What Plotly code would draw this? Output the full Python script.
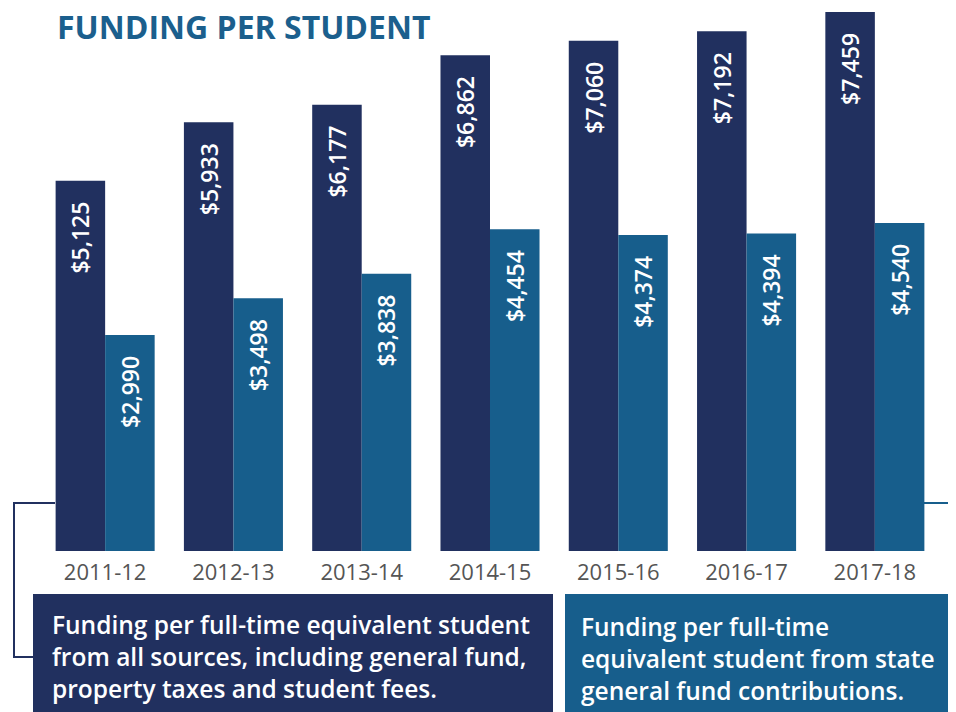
import plotly.graph_objects as go

years = ["2011-12", "2012-13", "2013-14", "2014-15", "2015-16", "2016-17", "2017-18"]
all_sources = [5125, 5933, 6177, 6862, 7060, 7192, 7459]
state_general_fund = [2990, 3498, 3838, 4454, 4374, 4394, 4540]

title_text = "FUNDING PER STUDENT"
legend_all_lines = ["Funding per full-time equivalent student",
                    "from all sources, including general fund,",
                    "property taxes and student fees."]
legend_state_lines = ["Funding per full-time",
                      "equivalent student from state",
                      "general fund contributions."]

FONT = "Open Sans"
DARK = "#21305f"
BLUE = "#175e8c"
W, H = 956, 712
OFF = 8  # page offset of the figure
PL, PR, PT, PB = 41, 939, 12, 551
L, T = PL - OFF, PT - OFF
R, B = W - (PR - OFF), H - (PB - OFF)
PW, PH = PR - PL, PB - PT

def px(x):
    return (x - PL) / PW

def py(y):
    return (PB - y) / PH

PAD = "\u00a0\u00a0\u00a0"

def fmt(v):
    return f"${v:,}" + PAD

fig = go.Figure()
for vals, col, nm in [(all_sources, DARK, "All sources"), (state_general_fund, BLUE, "State general fund")]:
    fig.add_trace(go.Bar(
        x=years, y=vals, marker_color=col, marker_line_width=0,
        text=[fmt(v) for v in vals], textposition="inside",
        insidetextanchor="end", textangle=-90,
        textfont=dict(family=FONT, size=23, color="white", weight=600),
        hoverinfo="skip", name=nm))

shapes = [
    dict(type="rect", xref="paper", yref="paper", x0=px(33), x1=px(553), y0=py(594), y1=py(720),
         fillcolor=DARK, line_width=0, layer="below"),
    dict(type="rect", xref="paper", yref="paper", x0=px(565), x1=px(952), y0=py(594), y1=py(720),
         fillcolor=BLUE, line_width=0, layer="below"),
    dict(type="path", xref="paper", yref="paper",
         path=f"M {px(55)} {py(503)} L {px(14)} {py(503)} L {px(14)} {py(657)} L {px(33)} {py(657)}",
         line=dict(color=DARK, width=2)),
    dict(type="line", xref="paper", yref="paper", x0=px(924), x1=px(960), y0=py(503), y1=py(503),
         line=dict(color=BLUE, width=2)),
    dict(type="line", xref="paper", yref="paper", x0=px(952), x1=px(960), y0=py(657), y1=py(657),
         line=dict(color=BLUE, width=2)),
]

LEG_FONT = dict(family=FONT, size=24.5, color="white", weight=600)
annotations = [
    dict(text=f"<b>{title_text}</b>", xref="paper", yref="paper", x=px(55), y=py(26),
         xanchor="left", yanchor="middle", showarrow=False,
         font=dict(family=FONT, size=32, color="#1b5f8d")),
    dict(text="<br>".join(legend_all_lines), xref="paper", yref="paper", x=px(50), y=py(656),
         xanchor="left", yanchor="middle", align="left", showarrow=False, font=LEG_FONT),
    dict(text="<br>".join(legend_state_lines), xref="paper", yref="paper", x=px(579), y=py(658.5),
         xanchor="left", yanchor="middle", align="left", showarrow=False, font=LEG_FONT),
]

fig.update_layout(
    width=W, height=H, margin=dict(l=L, r=R, t=T, b=B, autoexpand=False),
    barmode="group", bargap=0.228, bargroupgap=0,
    plot_bgcolor="white", paper_bgcolor="white", showlegend=False,
    shapes=shapes, annotations=annotations,
    xaxis=dict(type="category", showgrid=False, showline=False, zeroline=False, ticks="",
               ticklabelstandoff=6,
               tickfont=dict(family=FONT, size=22, color="#555555")),
    yaxis=dict(range=[0, 7459], visible=False, showgrid=False, zeroline=False),
)

fig.write_html("out.html")
